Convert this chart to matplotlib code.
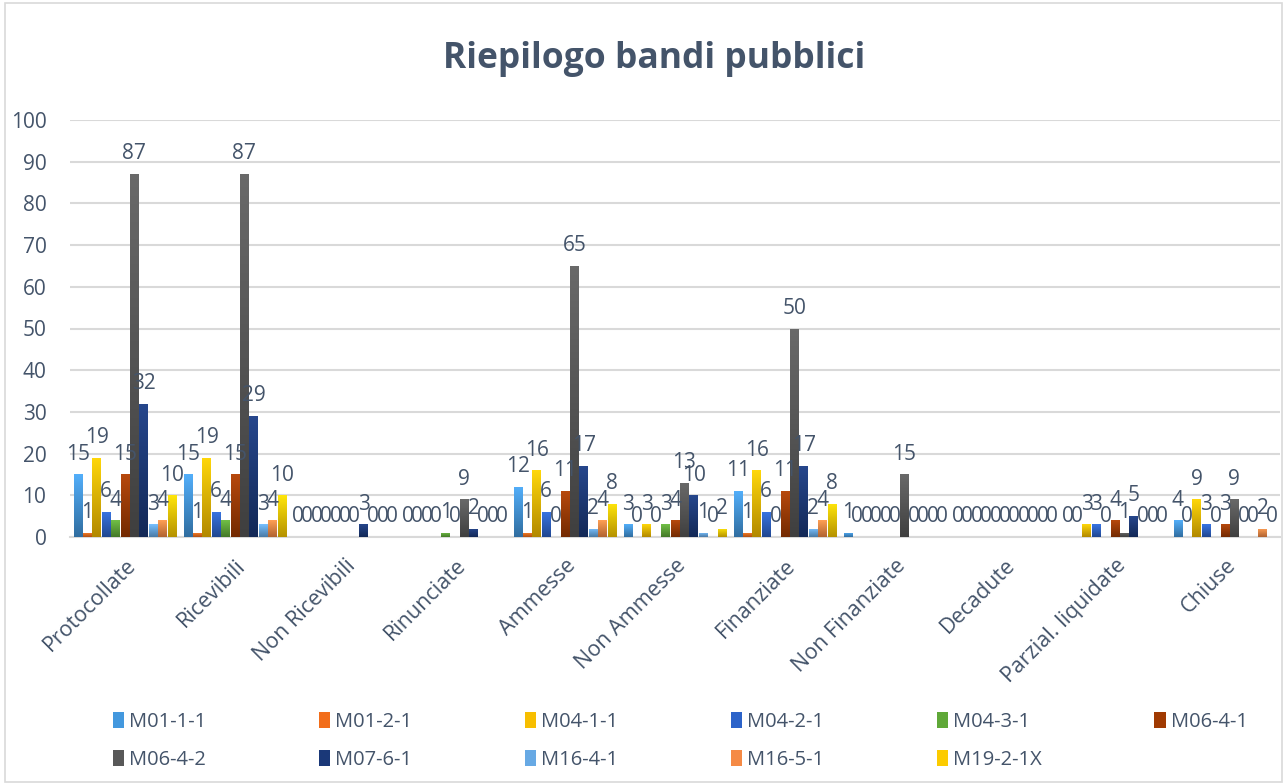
import numpy as np
import matplotlib
matplotlib.use("Agg")
import matplotlib.pyplot as plt
from matplotlib.colors import to_rgb
from matplotlib.patches import Rectangle

categories = ["Protocollate", "Ricevibili", "Non Ricevibili", "Rinunciate", "Ammesse",
              "Non Ammesse", "Finanziate", "Non Finanziate", "Decadute",
              "Parzial. liquidate", "Chiuse"]

series_names = ["M01-1-1", "M01-2-1", "M04-1-1", "M04-2-1", "M04-3-1", "M06-4-1",
                "M06-4-2", "M07-6-1", "M16-4-1", "M16-5-1", "M19-2-1X"]

M01_1_1 = [15, 15, 0, 0, 12, 3, 11, 1, 0, 0, 4]
M01_2_1 = [1, 1, 0, 0, 1, 0, 1, 0, 0, 0, 0]
M04_1_1 = [19, 19, 0, 0, 16, 3, 16, 0, 0, 3, 9]
M04_2_1 = [6, 6, 0, 0, 6, 0, 6, 0, 0, 3, 3]
M04_3_1 = [4, 4, 0, 1, 0, 3, 0, 0, 0, 0, 0]
M06_4_1 = [15, 15, 0, 0, 11, 4, 11, 0, 0, 4, 3]
M06_4_2 = [87, 87, 0, 9, 65, 13, 50, 15, 0, 1, 9]
M07_6_1 = [32, 29, 3, 2, 17, 10, 17, 0, 0, 5, 0]
M16_4_1 = [3, 3, 0, 0, 2, 1, 2, 0, 0, 0, 0]
M16_5_1 = [4, 4, 0, 0, 4, 0, 4, 0, 0, 0, 2]
M19_2_1X = [10, 10, 0, 0, 8, 2, 8, 0, 0, 0, 0]

series_values = [M01_1_1, M01_2_1, M04_1_1, M04_2_1, M04_3_1, M06_4_1,
                 M06_4_2, M07_6_1, M16_4_1, M16_5_1, M19_2_1X]

colors = ["#4398DE", "#F26D1A", "#F7BE00", "#2C63C9", "#5FA838", "#A03A02",
          "#585858", "#1A3878", "#67A9E4", "#F58A45", "#FCCB00"]

title = "Riepilogo bandi pubblici"
yticks = [0, 10, 20, 30, 40, 50, 60, 70, 80, 90, 100]

TXT = "#44546A"
GRID = "#D9D9D9"
plt.rcParams['font.family'] = ['Open Sans', 'DejaVu Sans']

fig = plt.figure(figsize=(12.87, 7.84), dpi=100)
ax = fig.add_axes([70/1287, 1-537/784, 1210/1287, (537-120)/784])

# chart border
fig.add_artist(Rectangle((0.004, 0.002), 0.992, 0.994, transform=fig.transFigure,
                         fill=False, edgecolor="#D9D9D9", linewidth=1.2))

n = len(series_names)
x = np.arange(len(categories))
group_w = 0.94
bw = group_w / n

handles = []
for i, (name, vals, col) in enumerate(zip(series_names, series_values, colors)):
    pos = x - group_w/2 + bw*(i + 0.5)
    bars = ax.bar(pos, vals, width=bw*0.92, color=col, label=name, zorder=3)
    handles.append(bars)
    base = np.array(to_rgb(col))
    top = np.clip(base * 1.08 + 0.04, 0, 1)
    bot = base * 0.72
    grad = np.linspace(0, 1, 64)[:, None, None]
    img = bot[None, None, :] * (1 - grad) + top[None, None, :] * grad
    for b, v in zip(bars, vals):
        if v <= 0:
            continue
        im = ax.imshow(img, extent=(b.get_x(), b.get_x() + b.get_width(), 0, v),
                       origin='lower', aspect='auto', zorder=3.5, interpolation='bilinear')
        im.set_clip_path(b)
    ax.bar_label(bars, padding=7, fontsize=15, color=TXT, zorder=5)

ax.set_xlim(-0.5, len(categories) - 0.5)
ax.set_ylim(0, 100)
ax.set_yticks(yticks)
ax.set_yticklabels([str(t) for t in yticks], fontsize=15, color=TXT)
ax.set_xticks(x)
ax.set_xticklabels(categories, rotation=45, ha='right', rotation_mode='anchor',
                   fontsize=15.5, color=TXT)
ax.tick_params(axis='both', length=0)
ax.tick_params(axis='y', pad=17)
ax.tick_params(axis='x', pad=13)
ax.grid(axis='y', color=GRID, linewidth=1.5, zorder=0)
for s in ["top", "right", "left"]:
    ax.spines[s].set_visible(False)
ax.spines["bottom"].set_color(GRID)
ax.spines["bottom"].set_linewidth(1.5)

fig.text(0.508, 0.925, title, ha='center', va='center', fontsize=25.5,
         fontweight='bold', color=TXT)

order = [0, 6, 1, 7, 2, 8, 3, 9, 4, 10, 5]
leg = fig.legend([handles[k] for k in order], [series_names[k] for k in order],
                 loc='upper left', bbox_to_anchor=(0.0875, 0.092), ncol=6,
                 frameon=False, fontsize=14.5, labelcolor=TXT,
                 handlelength=0.55, handleheight=0.8, handletextpad=0.25,
                 columnspacing=5.6, borderaxespad=0, labelspacing=0.9,
                 borderpad=0)

fig.savefig("out.png", dpi=100)
